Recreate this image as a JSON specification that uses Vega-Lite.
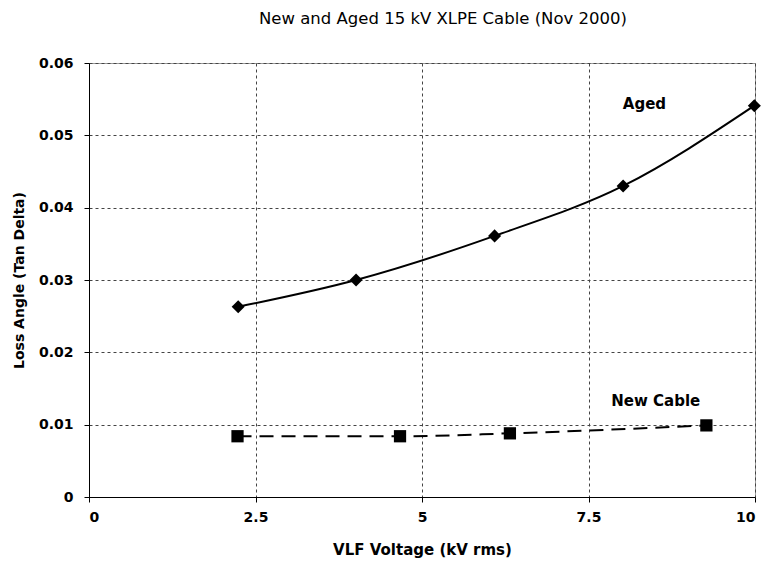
{
  "$schema": "https://vega.github.io/schema/vega-lite/v6.json",
  "width": 666,
  "height": 434,
  "autosize": "none",
  "padding": {"left": 89, "top": 63, "right": 9, "bottom": 67},
  "background": "white",
  "config": {
    "view": {"stroke": "#999", "strokeWidth": 1},
    "font": "DejaVu Sans"
  },
  "title": {
    "text": "New and Aged 15 kV XLPE Cable (Nov 2000)",
    "font": "DejaVu Sans",
    "fontSize": 16.5,
    "fontWeight": "normal",
    "color": "#000",
    "anchor": "middle",
    "dx": 21,
    "offset": 29
  },
  "datasets": {
    "series": [
      {"cable": "Aged", "voltage": 2.24, "tand": 0.0263},
      {"cable": "Aged", "voltage": 4.01, "tand": 0.0300},
      {"cable": "Aged", "voltage": 6.09, "tand": 0.0361},
      {"cable": "Aged", "voltage": 8.02, "tand": 0.0430},
      {"cable": "Aged", "voltage": 9.99, "tand": 0.0541},
      {"cable": "New Cable", "voltage": 2.23, "tand": 0.0084},
      {"cable": "New Cable", "voltage": 4.67, "tand": 0.0084},
      {"cable": "New Cable", "voltage": 6.32, "tand": 0.0088},
      {"cable": "New Cable", "voltage": 9.27, "tand": 0.0099}
    ],
    "labels": [
      {"label": "Aged", "voltage": 8.34, "tand": 0.0543},
      {"label": "New Cable", "voltage": 8.51, "tand": 0.0133}
    ]
  },
  "layer": [
    {
      "data": {"name": "series"},
      "transform": [{"filter": "datum.cable === 'Aged'"}],
      "mark": {"type": "line", "color": "#000", "strokeWidth": 2, "interpolate": "monotone"},
      "encoding": {
        "x": {
          "field": "voltage", "type": "quantitative",
          "scale": {"domain": [0, 10], "nice": false},
          "axis": {
            "title": "VLF Voltage (kV rms)",
            "values": [0, 2.5, 5, 7.5, 10],
            "format": "~g",
            "grid": true, "gridColor": "#444", "gridDash": [3, 3], "gridOpacity": 1,
            "domainColor": "#000", "tickColor": "#000", "tickSize": 5,
            "labelFont": "DejaVu Sans", "labelFontSize": 14, "labelFontWeight": "bold", "labelColor": "#000",
            "labelPadding": 8,
            "titleFont": "DejaVu Sans", "titleFontSize": 15, "titleFontWeight": "bold", "titleColor": "#000",
            "titlePadding": 18
          }
        },
        "y": {
          "field": "tand", "type": "quantitative",
          "scale": {"domain": [0, 0.06], "nice": false},
          "axis": {
            "title": "Loss Angle (Tan Delta)",
            "values": [0, 0.01, 0.02, 0.03, 0.04, 0.05, 0.06],
            "format": "~g",
            "grid": true, "gridColor": "#444", "gridDash": [3, 3], "gridOpacity": 1,
            "domainColor": "#000", "tickColor": "#000", "tickSize": 5,
            "labelFont": "DejaVu Sans", "labelFontSize": 14, "labelFontWeight": "bold", "labelColor": "#000",
            "labelPadding": 11,
            "titleFont": "DejaVu Sans", "titleFontSize": 14, "titleFontWeight": "bold", "titleColor": "#000",
            "titlePadding": 12
          }
        }
      }
    },
    {
      "data": {"name": "series"},
      "transform": [{"filter": "datum.cable === 'New Cable'"}],
      "mark": {"type": "line", "color": "#000", "strokeWidth": 2, "strokeDash": [14, 8], "interpolate": "monotone"},
      "encoding": {
        "x": {"field": "voltage", "type": "quantitative"},
        "y": {"field": "tand", "type": "quantitative"}
      }
    },
    {
      "data": {"name": "series"},
      "transform": [{"filter": "datum.cable === 'Aged'"}],
      "mark": {"type": "point", "shape": "diamond", "filled": true, "color": "#000", "size": 170, "opacity": 1},
      "encoding": {
        "x": {"field": "voltage", "type": "quantitative"},
        "y": {"field": "tand", "type": "quantitative"}
      }
    },
    {
      "data": {"name": "series"},
      "transform": [{"filter": "datum.cable === 'New Cable'"}],
      "mark": {"type": "point", "shape": "square", "filled": true, "color": "#000", "size": 150, "opacity": 1},
      "encoding": {
        "x": {"field": "voltage", "type": "quantitative"},
        "y": {"field": "tand", "type": "quantitative"}
      }
    },
    {
      "data": {"name": "labels"},
      "mark": {"type": "text", "font": "DejaVu Sans", "fontSize": 15, "fontWeight": "bold", "color": "#000", "align": "center", "baseline": "middle"},
      "encoding": {
        "x": {"field": "voltage", "type": "quantitative"},
        "y": {"field": "tand", "type": "quantitative"},
        "text": {"field": "label"}
      }
    }
  ]
}
